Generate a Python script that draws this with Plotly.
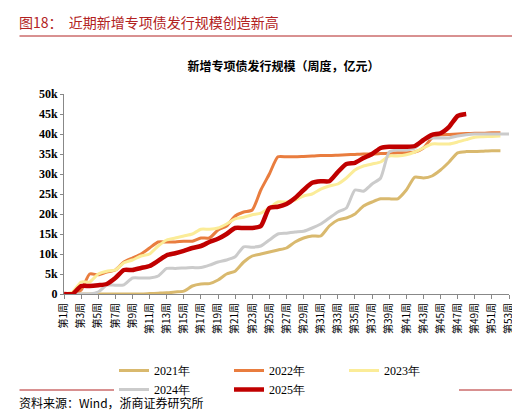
import plotly.graph_objects as go

weeks = [f"第{i}周" for i in range(1, 54)]
y2021 = [0,0,0,0,0,0,0,0,0,0,100,200,300,500,700,2000,2500,2600,3500,5000,5700,8000,9500,10000,10500,11000,11500,13000,14000,14500,14500,17000,18500,19000,20000,22000,23000,23800,23800,23800,26000,29200,29000,29500,31000,33000,35300,35600,35600,35700,35800,35800]
y2022 = [0,200,1000,5000,4800,5500,6000,8000,9000,10000,11500,13000,13000,13000,13200,13200,14000,14000,16000,17000,19500,20500,21000,26000,30000,34300,34300,34300,34400,34500,34600,34600,34700,34800,34900,35000,35000,35100,35200,35300,35300,35500,36500,39000,39800,39900,40000,40100,40200,40200,40300,40300]
y2023 = [0,500,3000,3000,5000,5700,6000,7800,8500,9500,10000,12000,13500,14000,14500,15000,16200,16200,16500,17500,18800,19200,19800,20200,21500,23000,23000,23500,24500,25000,26200,27000,27500,29000,31000,32000,32500,33000,34500,34500,34800,35500,36500,37500,37500,37500,38000,38600,39200,39300,39400,39500]
y2024 = [0,0,0,0,500,2200,2200,2300,4000,4000,4000,4500,6400,6400,6500,6600,6600,7200,8000,8500,9300,11800,11700,12000,13500,15000,15200,15500,15700,16500,17500,19000,20500,21500,26000,25700,27500,29000,35500,36000,36000,36500,38500,39000,39000,39000,39500,39800,40000,40000,40000,40000,40000]
y2025 = [0,0,2000,2000,2200,2500,4000,6000,6000,6500,7000,8300,9700,10200,10800,11500,12000,13000,13800,15000,16500,16500,16500,17000,21500,21800,22500,24000,26000,27800,28200,28200,30500,32500,32800,34000,35000,36500,36800,36800,36800,37000,38500,39800,40200,41800,44500,45000]

series = [("2021年", y2021, "#D9B96E", 3), ("2022年", y2022, "#E97D3F", 3),
          ("2023年", y2023, "#FBEC98", 3), ("2024年", y2024, "#CBCBCB", 3),
          ("2025年", y2025, "#C00000", 4.5)]

fig = go.Figure()
for name, ys, col, w in series:
    fig.add_trace(go.Scatter(x=weeks[:len(ys)], y=ys, name=name, mode="lines",
                             line=dict(color=col, width=w, shape="spline", smoothing=0.6)))

serif = "Liberation Serif"
fig.update_layout(
    width=520, height=412, paper_bgcolor="white", plot_bgcolor="white",
    margin=dict(l=56, r=19, t=86, b=126),
    font=dict(family=serif, color="black"),
    title=dict(text="<b>新增专项债发行规模（周度，亿元）</b>", x=0.53, xanchor="center", y=0.858, yanchor="middle",
               font=dict(family="Noto Sans CJK SC", size=12)),
    legend=dict(orientation="h", x=0.5, xanchor="center", y=-0.31, yanchor="top",
                font=dict(family=serif, size=12, color="black"), entrywidth=70),
    xaxis=dict(type="category", categoryorder="array", categoryarray=weeks, range=[0, 52],
               tickvals=weeks[::2], tickangle=-90, showline=True, linecolor="#888", linewidth=1,
               ticks="outside", ticklen=4, tickcolor="#888", showgrid=False,
               tickfont=dict(family="Noto Sans CJK SC", size=10)),
    yaxis=dict(range=[0, 50000], dtick=5000, showline=True, linecolor="#888", linewidth=1,
               ticks="outside", ticklen=3, tickcolor="#888", showgrid=False,
               tickfont=dict(family=serif, size=12, weight="bold")),
)
fig.add_annotation(text="图18：  近期新增专项债发行规模创造新高", xref="paper", yref="paper",
                   x=-0.105, y=1.30, xanchor="left", yanchor="bottom", showarrow=False,
                   font=dict(family="Noto Sans CJK SC", size=14, color="#B22222"))
fig.add_shape(type="line", xref="paper", yref="paper", x0=-0.1, x1=1.04, y0=1.29, y1=1.29,
              line=dict(color="#B22222", width=1))
fig.add_annotation(text="资料来源：Wind，浙商证券研究所", xref="paper", yref="paper",
                   x=-0.105, y=-0.49, xanchor="left", yanchor="top", showarrow=False,
                   font=dict(family="Noto Sans CJK SC", size=12, color="black"))
fig.add_shape(type="line", xref="paper", yref="paper", x0=-0.1, x1=1.04, y0=-0.48, y1=-0.48,
              line=dict(color="#B22222", width=1))
fig.write_html("out.html")
